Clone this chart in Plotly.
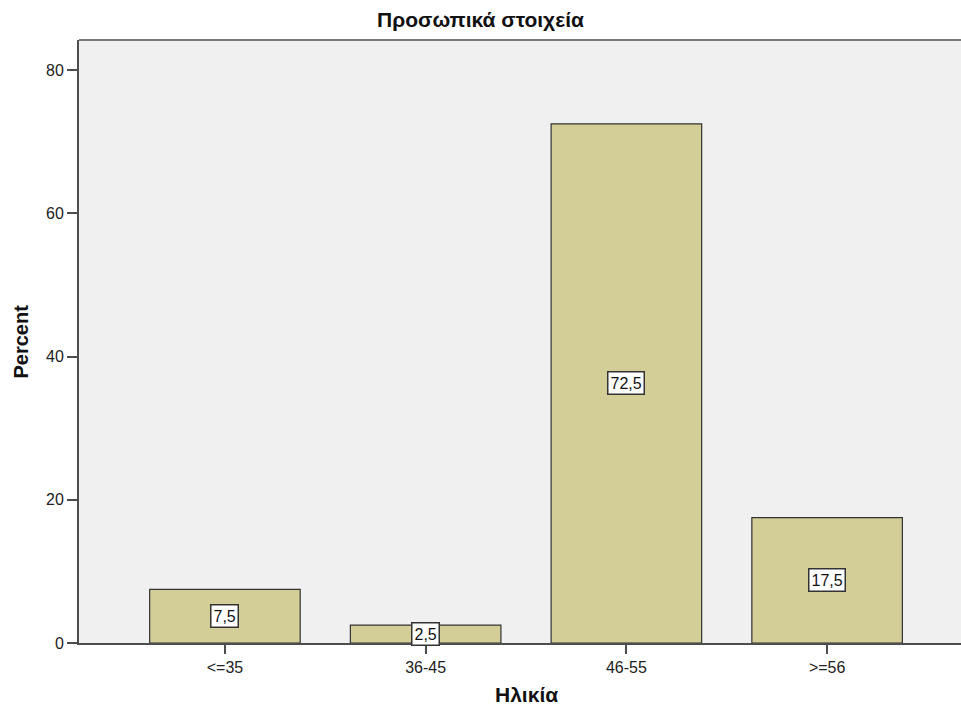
import plotly.graph_objects as go

# Age groups and their share of respondents (%)
categories = ["<=35", "36-45", "46-55", ">=56"]
percent = [7.5, 2.5, 72.5, 17.5]
y_ticks = [0, 20, 40, 60, 80]

FONT = "Liberation Sans, Arial, sans-serif"
AXIS_COLOR = "#4d4d4d"
TEXT_COLOR = "#111111"

W, H = 961, 706
L, R, T, B = 79, 0, 40, 63
plot_w, plot_h = W - L - R, H - T - B

fig = go.Figure()
fig.add_trace(go.Bar(
    x=list(range(len(categories))),
    y=percent,
    width=0.75,
    marker=dict(color="#d3ce97", line=dict(color="#333333", width=1.2)),
    hoverinfo="skip",
))

# Boxed value labels centred on each bar
for i, v in enumerate(percent):
    fig.add_annotation(
        x=i, y=v / 2, text=f"{v:.1f}".replace(".", ","),
        showarrow=False, font=dict(family=FONT, size=16, color=TEXT_COLOR),
        bgcolor="white", bordercolor="#333333", borderwidth=1.5, borderpad=2,
    )

# Top frame line of the plot area
fig.add_shape(type="line", xref="paper", yref="paper", x0=0, x1=1, y0=1, y1=1,
              line=dict(color="#7a7a7a", width=2))

# Axis titles
fig.add_annotation(x=1.5, xref="x", y=-51 / plot_h, yref="paper",
                   text="<b>Ηλικία</b>", showarrow=False,
                   font=dict(family=FONT, size=21, color=TEXT_COLOR),
                   yanchor="middle")
fig.add_annotation(x=-59 / plot_w, xref="paper", y=0.5, yref="paper",
                   text="<b>Percent</b>", showarrow=False, textangle=-90,
                   font=dict(family=FONT, size=20, color=TEXT_COLOR),
                   xanchor="center", yanchor="middle")

fig.update_layout(
    width=W, height=H,
    margin=dict(l=L, r=R, t=T, b=B),
    paper_bgcolor="white", plot_bgcolor="#f0f0f0",
    showlegend=False,
    title=dict(text="<b>Προσωπικά στοιχεία</b>", x=0.5, xanchor="center",
               y=1 - 20 / H, yanchor="middle",
               font=dict(family=FONT, size=21, color=TEXT_COLOR)),
    font=dict(family=FONT, size=16, color="#222222"),
)
fig.update_xaxes(
    range=[-0.727, 3.667],
    tickvals=list(range(len(categories))), ticktext=categories,
    showgrid=False, zeroline=False,
    showline=True, linecolor=AXIS_COLOR, linewidth=2,
    ticks="outside", ticklen=9, tickwidth=1.5, tickcolor=AXIS_COLOR,
    tickfont=dict(family=FONT, size=16, color="#222222"),
)
fig.update_yaxes(
    range=[0, 84.2],
    tickvals=y_ticks,
    showgrid=False, zeroline=False,
    showline=True, linecolor=AXIS_COLOR, linewidth=2,
    ticks="outside", ticklen=10, tickwidth=1.5, tickcolor=AXIS_COLOR,
    tickfont=dict(family=FONT, size=16, color="#222222"),
)

fig.write_html("out.html")
